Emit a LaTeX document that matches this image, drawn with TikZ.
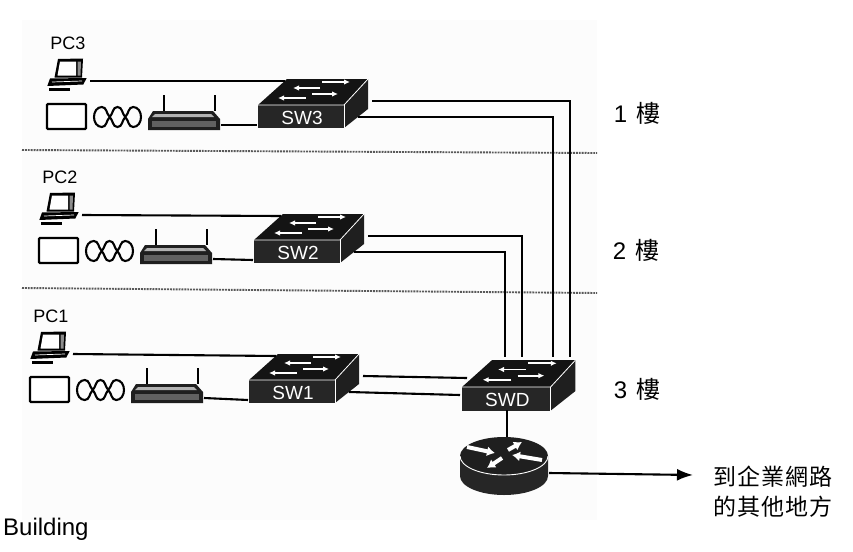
\documentclass[tikz,border=0pt]{standalone}
\usepackage{fontspec}
\usetikzlibrary{arrows.meta}
\setmainfont{Liberation Sans}
\newfontfamily\cjk{Noto Sans CJK TC}

\begin{document}
\begin{tikzpicture}[x=1pt,y=-1pt]
\useasboundingbox (0,0) rectangle (853,551);

\tikzset{
% Cables and the switch parts
wire/.style={line width=2.1,black},
sw front/.style={fill=black!85},
sw arrow/.style={white,line width=1.7,-{Latex[length=6pt,width=5.5pt]}},
sw label/.style={white,font=\fontsize{19}{20}\selectfont},
small label/.style={font=\fontsize{18}{20}\selectfont},
floor label/.style={font=\fontsize{24}{26}\selectfont},
router arrow/.style={white,line width=4,-{Latex[length=8pt,width=10pt]}},
% One switch, origin at the top left of its front
switch/.pic={
\fill[black!92] (0,0) -- (29,-26) -- (110,-26) -- (86,0) -- cycle;
\fill[black!88] (86,0) -- (110,-26) -- (110,4) -- (86,23) -- cycle;
\fill[sw front] (0,0) rectangle (86,23);
\draw[white,line width=0.8] (0,0) -- (86,0) -- (110,-26);
\draw[white,line width=0.8] (86,0) -- (86,23);
\draw[sw arrow] (64,-23) -- (92,-23);
\draw[sw arrow] (62,-17) -- (35,-17);
\draw[sw arrow] (54,-11) -- (80,-11);
\draw[sw arrow] (48,-7) -- (20,-7);
\node[sw label] (-name) at (44,13) {#1};
\coordinate (-a) at (27,-24);
\coordinate (-b) at (-1,20);
\coordinate (-c) at (114,-4);
\coordinate (-d) at (100,12);
},
% PC, tablet, radio waves and access point of one floor
floor/.pic={
\node[small label] (-name) at (22,-60) {#1};
\fill[black] (12,-44) -- (37,-44.5) -- (36,-25.5) -- (8.5,-25.5) -- cycle;
\fill[white] (14,-41.5) -- (30,-41.5) -- (30,-27.5) -- (11.5,-27.5) -- cycle;
\fill[black!45] (31.5,-41.5) -- (35,-41.5) -- (34.5,-27.5) -- (31.5,-27.5) -- cycle;
\fill[black] (4,-24.5) -- (40.7,-25) -- (37.3,-18.5) -- (1.3,-17) -- cycle;
\draw[white,line width=0.7] (6,-21) -- (36,-22);
\draw[line width=2.6] (3.3,-13.5) -- (24,-13.5);
\draw[line width=2.4,fill=white,rounded corners=1] (1,1) rectangle (40,26);
\draw[line width=2.1] (48,14) to[out=90,in=180] (55.8,4) to[out=0,in=135] (63.7,14)
to[out=-45,in=180] (71.5,24) to[out=0,in=-135] (79.3,14) to[out=45,in=180] (87.2,4)
to[out=0,in=90] (95,14) to[out=-90,in=0] (87.2,24) to[out=180,in=-45] (79.3,14)
to[out=135,in=0] (71.5,4) to[out=180,in=45] (63.7,14) to[out=-135,in=0] (55.8,24)
to[out=180,in=-90] (48,14);
\draw[line width=1.8] (118,-8) -- (118,8);
\draw[line width=1.8] (169,-8) -- (169,8);
\fill[black!88] (102,16) -- (107,8) -- (167,8) -- (174,16) -- (174,27) -- (102,27) -- cycle;
\fill[black!30] (109,11) -- (165,11) -- (168,14) -- (106,14) -- cycle;
\fill[black!62] (106,18) rectangle (170,24);
\coordinate (-pc) at (44,-22);
\coordinate (-ap) at (175,22);
}
}

% Paper and the floor rules
\fill[black!1] (22,20) rectangle (597,520);
\draw[black!65,line width=1.9,densely dotted] (22,150) -- (597,153);
\draw[black!65,line width=1.9,densely dotted] (22,288) -- (597,293);

% Floors
\pic (f3) at (46,103) {floor={PC3}};
\pic (f2) at (38,237) {floor={PC2}};
\pic (f1) at (29,376) {floor={PC1}};

% Switches
\pic (sw3) at (258,105) {switch={SW3}};
\pic (sw2) at (254,240) {switch={SW2}};
\pic (sw1) at (249,380) {switch={SW1}};
\pic[scale=1.03] (swd) at (462,387) {switch={SWD}};

\coordinate (swd-t1) at (505,357);
\coordinate (swd-t2) at (522,357);
\coordinate (swd-t3) at (553,357);
\coordinate (swd-t4) at (570,357);
\coordinate (swd-l1) at (467,378);
\coordinate (swd-l2) at (460,395);
\coordinate (swd-b) at (507,410);

% Router
\fill[black!85] (460,456) -- (460,476) arc[start angle=180,end angle=0,x radius=44,y radius=19] -- (548,456) -- cycle;
\fill[black!88] (504,456) ellipse[x radius=44,y radius=19];
\draw[white,line width=0.9] (460,456) arc[start angle=180,end angle=0,x radius=44,y radius=19];
\draw[router arrow] (467,447) -- (495,453);
\draw[router arrow] (508,450) -- (522,442);
\draw[router arrow] (542,460) -- (512,455);
\draw[router arrow] (502,458) -- (487,468);
\coordinate (router-t) at (507,437);
\coordinate (router-r) at (549,473);
\coordinate (net) at (693,475);

% Cables
\foreach \n/\m in {f3/sw3,f2/sw2,f1/sw1}{
\draw[wire] (\n-pc) -- (\m-a);
\draw[wire] (\n-ap) -- (\m-b);
}
\draw[wire] (sw3-c) -| (swd-t4);
\draw[wire] (sw3-d) -| (swd-t3);
\draw[wire] (sw2-c) -| (swd-t2);
\draw[wire] (sw2-d) -| (swd-t1);
\draw[wire] (sw1-c) -- (swd-l1);
\draw[wire] (sw1-d) -- (swd-l2);
\draw[wire] (swd-b) -- (router-t);
\draw[wire,-{Latex[length=16pt,width=12pt]}] (router-r) -- (net);

% Labels
\node[floor label] (floor1) at (637,113) {1\hspace{9pt}{\cjk 樓}};
\node[floor label] (floor2) at (636,250) {2\hspace{9pt}{\cjk 樓}};
\node[floor label] (floor3) at (637,389) {3\hspace{9pt}{\cjk 樓}};
\node[anchor=west,inner sep=0,align=left,font=\fontsize{23}{30}\selectfont\cjk\addfontfeature{LetterSpace=5}] (rest) at (713,492) {到企業網路\\的其他地方};
\node[anchor=west,inner sep=0,font=\fontsize{24}{26}\selectfont] (building) at (3,529) {Building};

\end{tikzpicture}
\end{document}
